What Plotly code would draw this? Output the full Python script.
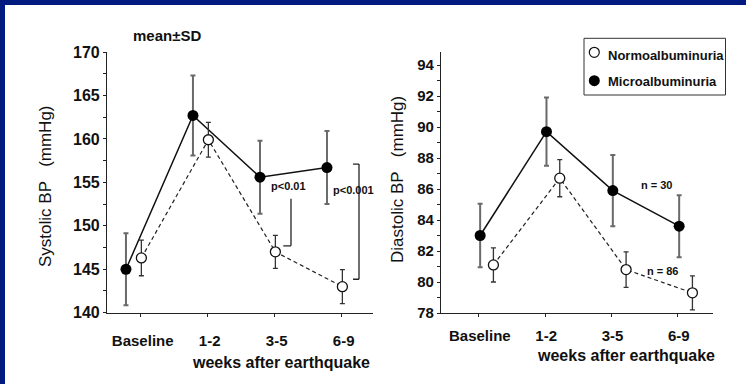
import plotly.graph_objects as go

# ---------------- data ----------------
categories = ["Baseline", "1-2", "3-5", "6-9"]
x_idx = [0, 1, 2, 3]

sys_micro = [145.0, 162.7, 155.6, 156.7]
sys_micro_sd = [4.15, 4.6, 4.2, 4.2]
sys_normo = [146.3, 159.9, 147.0, 143.0]
sys_normo_sd = [2.05, 2.0, 1.9, 1.95]

dia_micro = [83.0, 89.7, 85.9, 83.6]
dia_micro_sd = [2.05, 2.2, 2.3, 2.0]
dia_normo = [81.1, 86.7, 80.8, 79.3]
dia_normo_sd = [1.1, 1.2, 1.15, 1.1]

sys_ticks = [140, 145, 150, 155, 160, 165, 170]
dia_ticks = [78, 80, 82, 84, 86, 88, 90, 92, 94]

W, H = 746, 384
FONT = "Liberation Sans, Arial, Helvetica, sans-serif"
BLUE = "#001a80"


def px(x):
    return x / W


def py(y):
    return 1 - y / H


fig = go.Figure()


def add_series(xs, ys, sds, xa, ya, filled, offset):
    xpos = [x + offset for x in xs]
    if filled:
        fig.add_trace(go.Scatter(
            x=xpos, y=ys, xaxis=xa, yaxis=ya, mode="lines+markers",
            line=dict(color="#111111", width=1.5),
            marker=dict(size=11, color="#000000", line=dict(width=0)),
            error_y=dict(type="data", array=sds, visible=True,
                         color="#6a6a6a", thickness=2, width=2.5),
            showlegend=False, hoverinfo="skip"))
    else:
        fig.add_trace(go.Scatter(
            x=xpos, y=ys, xaxis=xa, yaxis=ya, mode="lines+markers",
            line=dict(color="#222222", width=1.2, dash="4px,3px"),
            marker=dict(size=10, color="#ffffff", line=dict(width=1.3, color="#111111")),
            error_y=dict(type="data", array=sds, visible=True,
                         color="#333333", thickness=1.3, width=2.5),
            showlegend=False, hoverinfo="skip"))


# left panel (systolic)
add_series(x_idx, sys_micro, sys_micro_sd, "x", "y", True, -0.22)
add_series(x_idx, sys_normo, sys_normo_sd, "x", "y", False, 0.01)
# right panel (diastolic)
add_series(x_idx, dia_micro, dia_micro_sd, "x2", "y2", True, 0.02)
add_series(x_idx, dia_normo, dia_normo_sd, "x2", "y2", False, 0.22)

axis_common = dict(showline=True, linecolor="#222222", linewidth=1.2,
                   ticks="outside", ticklen=3, tickcolor="#222222",
                   showgrid=False, zeroline=False, automargin=False)

fig.update_layout(
    width=W, height=H, autosize=False,
    margin=dict(l=0, r=0, t=0, b=0, pad=0),
    paper_bgcolor="white", plot_bgcolor="white",
    font=dict(family=FONT, color="#111111"),
    xaxis=dict(domain=[px(107), px(373)], range=[-0.503, 3.467],
               tickvals=x_idx, ticktext=categories, anchor="y",
               tickfont=dict(size=15, weight="bold"), ticklabelstandoff=11,
               ticklabelshift=2,
               **axis_common),
    yaxis=dict(domain=[py(312.7), py(52)], range=[140, 170],
               tickvals=sys_ticks, anchor="x",
               tickfont=dict(size=16, weight="bold"),
               minor=dict(dtick=2.5, tick0=140, ticks="outside", ticklen=3,
                          tickcolor="#222222"),
               **axis_common),
    xaxis2=dict(domain=[px(441), px(713)], range=[-0.57, 3.53],
                tickvals=x_idx, ticktext=categories, anchor="y2",
                tickfont=dict(size=15, weight="bold"), ticklabelstandoff=6,
                ticklabelshift=1,
                **axis_common),
    yaxis2=dict(domain=[py(313), py(52)], range=[78, 94.84],
                tickvals=dia_ticks, anchor="x2",
                tickfont=dict(size=15, weight="bold"),
                minor=dict(dtick=1, tick0=78, ticks="outside", ticklen=3,
                           tickcolor="#222222"),
                **axis_common),
)

shapes = []
# blue frame strips (top and left)
shapes.append(dict(type="rect", xref="paper", yref="paper", x0=0, x1=1,
                   y0=py(5), y1=1, fillcolor=BLUE, line=dict(width=0), layer="above"))
shapes.append(dict(type="rect", xref="paper", yref="paper", x0=0, x1=px(5),
                   y0=0, y1=1, fillcolor=BLUE, line=dict(width=0), layer="above"))

# significance brackets (left panel)
bk = dict(color="#222222", width=1.3)
shapes.append(dict(type="line", xref="x", yref="y", x0=2.243, x1=2.243, y0=153.1, y1=147.7, line=bk))
shapes.append(dict(type="line", xref="x", yref="y", x0=2.128, x1=2.243, y0=147.7, y1=147.7, line=bk))
shapes.append(dict(type="line", xref="x", yref="y", x0=3.258, x1=3.258, y0=157.1, y1=143.85, line=bk))
shapes.append(dict(type="line", xref="x", yref="y", x0=3.169, x1=3.258, y0=157.1, y1=157.1, line=bk))
shapes.append(dict(type="line", xref="x", yref="y", x0=3.169, x1=3.258, y0=143.85, y1=143.85, line=bk))

# legend box (manual)
shapes.append(dict(type="rect", xref="paper", yref="paper", x0=px(584), x1=px(725.5),
                   y0=py(95), y1=py(38.3), fillcolor="white",
                   line=dict(color="#333333", width=1)))
shapes.append(dict(type="circle", xref="paper", yref="paper",
                   x0=px(594.3 - 5), x1=px(594.3 + 5), y0=py(52.3 + 5), y1=py(52.3 - 5),
                   fillcolor="white", line=dict(color="#111111", width=1.2)))
shapes.append(dict(type="circle", xref="paper", yref="paper",
                   x0=px(594.3 - 5.5), x1=px(594.3 + 5.5), y0=py(80.7 + 5.5), y1=py(80.7 - 5.5),
                   fillcolor="black", line=dict(color="black", width=0)))

fig.update_layout(shapes=shapes)

ann = []


def text(x, y, s, size, bold=False, xref="paper", yref="paper", xanchor="center",
         angle=0):
    ann.append(dict(x=x, y=y, xref=xref, yref=yref, text=s, showarrow=False,
                    xanchor=xanchor, yanchor="middle", textangle=angle,
                    font=dict(size=size, family=FONT, color="#111111",
                              weight="bold" if bold else "normal")))


text(px(166.5), py(35), "mean±SD", 15, bold=True)
text(px(45), py(186), "Systolic BP\u00a0\u00a0\u00a0(mmHg)", 17, angle=-90)
text(px(397), py(180), "Diastolic BP\u00a0\u00a0\u00a0(mmHg)", 17, angle=-90)
text(px(281), py(362), "weeks after earthquake", 16, bold=True)
text(px(625.5), py(355), "weeks after earthquake", 16, bold=True)
text(2.2, 154.6, "p<0.01", 11, bold=True, xref="x", yref="y")
text(3.17, 154.1, "p<0.001", 11, bold=True, xref="x", yref="y")
text(2.68, 86.26, "n = 30", 11, bold=True, xref="x2", yref="y2")
text(2.78, 80.7, "n = 86", 11, bold=True, xref="x2", yref="y2")
text(px(605.5), py(55.7), "Normoalbuminuria", 13, bold=True, xanchor="left")
text(px(605.5), py(81.7), "Microalbuminuria", 13, bold=True, xanchor="left")

fig.update_layout(annotations=ann)

fig.write_html(
    "out.html",
    config={"displayModeBar": False, "responsive": False},
    post_script=("document.body.style.margin='0';"
                 "document.body.style.overflow='hidden';"
                 "document.documentElement.style.overflow='hidden';"),
)
